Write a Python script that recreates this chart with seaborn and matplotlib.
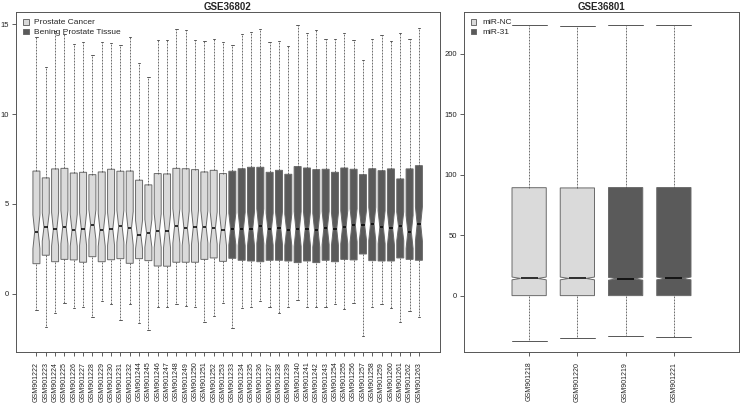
import numpy as np
import pandas as pd
import matplotlib
matplotlib.use('Agg')
import matplotlib.pyplot as plt
import seaborn as sns

sns.set_style('white')
plt.rcParams['font.family'] = ['Liberation Sans', 'DejaVu Sans']

# GSE36802 : five number summaries per array
left_samples = ['GSM901222', 'GSM901223', 'GSM901224', 'GSM901225', 'GSM901226', 'GSM901227',
                'GSM901228', 'GSM901229', 'GSM901230', 'GSM901231', 'GSM901232', 'GSM901244',
                'GSM901245', 'GSM901246', 'GSM901247', 'GSM901248', 'GSM901249', 'GSM901250',
                'GSM901251', 'GSM901252', 'GSM901253',
                'GSM901233', 'GSM901234', 'GSM901235', 'GSM901236', 'GSM901237', 'GSM901238',
                'GSM901239', 'GSM901240', 'GSM901241', 'GSM901242', 'GSM901243', 'GSM901254',
                'GSM901255', 'GSM901256', 'GSM901257', 'GSM901258', 'GSM901259', 'GSM901260',
                'GSM901261', 'GSM901262', 'GSM901263']
left_groups = ['Prostate Cancer'] * 21 + ['Bening Prostate Tissue'] * 21
left_lo = [-0.91, -1.87, -1.06, -0.52, -0.81, -0.74, -1.30, -0.41, -0.57, -1.47, -0.56, -1.61,
           -2.00, -0.72, -0.72, -0.59, -0.67, -0.72, -1.58, -1.24, -0.52,
           -1.91, -0.81, -0.76, -0.41, -0.76, -1.09, -0.76, -0.35, -0.76, -0.76, -0.76, -0.56,
           -0.87, -0.50, -2.35, -0.76, -0.59, -0.81, -1.60, -0.98, -1.28]
left_q1 = [1.67, 2.14, 1.78, 1.91, 1.88, 1.75, 2.06, 1.78, 1.89, 1.95, 1.69, 1.95, 1.84, 1.54,
           1.53, 1.75, 1.75, 1.75, 1.91, 1.99, 1.80,
           1.97, 1.86, 1.82, 1.78, 1.86, 1.86, 1.82, 1.73, 1.82, 1.73, 1.86, 1.78, 1.91, 1.88,
           2.21, 1.84, 1.82, 1.82, 1.99, 1.91, 1.86]
left_med = [3.45, 3.71, 3.59, 3.71, 3.53, 3.60, 3.84, 3.55, 3.60, 3.75, 3.64, 3.29, 3.36, 3.51,
            3.49, 3.77, 3.64, 3.71, 3.73, 3.66, 3.57,
            3.60, 3.60, 3.62, 3.77, 3.59, 3.66, 3.55, 3.60, 3.62, 3.53, 3.66, 3.60, 3.70, 3.81,
            3.81, 3.88, 3.70, 3.64, 3.75, 3.44, 3.88]
left_q3 = [6.83, 6.45, 6.95, 6.98, 6.72, 6.76, 6.63, 6.78, 6.93, 6.82, 6.83, 6.32, 6.06, 6.69,
           6.67, 6.98, 6.96, 6.91, 6.78, 6.87, 6.69,
           6.82, 6.96, 7.04, 7.04, 6.76, 6.87, 6.65, 7.08, 7.00, 6.91, 6.93, 6.76, 7.00, 6.93,
           6.63, 6.96, 6.85, 6.95, 6.39, 6.95, 7.13]
left_hi = [14.32, 12.65, 14.63, 14.49, 13.93, 14.00, 13.30, 14.00, 13.95, 13.84, 14.32, 12.87,
           12.05, 14.15, 14.15, 14.73, 14.67, 14.13, 14.09, 14.20, 14.00,
           13.84, 14.49, 14.60, 14.76, 14.00, 14.10, 13.82, 14.97, 14.54, 14.67, 14.17, 14.17,
           14.54, 14.13, 13.00, 14.20, 14.40, 14.10, 14.50, 14.20, 14.80]

# GSE36801
right_samples = ['GSM901218', 'GSM901220', 'GSM901219', 'GSM901221']
right_groups = ['miR-NC', 'miR-NC', 'miR-31', 'miR-31']
right_lo = [-37.0, -34.4, -33.0, -34.2]
right_q1 = [0.3, 0.3, 0.3, 0.3]
right_med = [14.5, 14.5, 14.2, 14.5]
right_q3 = [89.5, 89.3, 89.6, 89.6]
right_hi = [224.0, 223.5, 224.0, 224.0]

light = '#dadada'
dark = '#5a5a5a'


def expand(samples, groups, lo, q1, med, q3, hi, k):
    # sample whose quantiles reproduce the summary; k sets the notch size
    rows = []
    for s, g, a, b, c, d, e in zip(samples, groups, lo, q1, med, q3, hi):
        vals = [a] + [b] * k + [c] * k + [d] * k + [e]
        rows += [(s, g, v) for v in vals]
    return pd.DataFrame(rows, columns=['sample', 'group', 'value'])


left_df = expand(left_samples, left_groups, left_lo, left_q1, left_med, left_q3, left_hi, 24)
right_df = expand(right_samples, right_groups, right_lo, right_q1, right_med, right_q3, right_hi, 5000)

fig = plt.figure(figsize=(7.41, 4.03), dpi=100)
ax1 = fig.add_axes([16 / 741, 51 / 403, 424 / 741, 340 / 403])
ax2 = fig.add_axes([464 / 741, 51 / 403, 275 / 741, 340 / 403])

common = dict(x='sample', y='value', hue='group', dodge=False, whis=(0, 100),
              saturation=1, linecolor='#6a6a6a', linewidth=0.7, showfliers=False,
              shownotches=True,
              medianprops=dict(color='black', linewidth=1.1),
              whiskerprops=dict(color='#555555', linewidth=0.6, linestyle=(0, (2.2, 1.4))),
              capprops=dict(color='#555555', linewidth=0.7))

sns.boxplot(data=left_df, order=left_samples,
            hue_order=['Prostate Cancer', 'Bening Prostate Tissue'],
            palette=[light, dark], width=0.75, capwidths=0.25, ax=ax1, **common)
sns.boxplot(data=right_df, order=right_samples, hue_order=['miR-NC', 'miR-31'],
            palette=[light, dark], width=0.71, capwidths=0.73, ax=ax2, **common)

for ax, title in [(ax1, 'GSE36802'), (ax2, 'GSE36801')]:
    ax.set_xlabel('')
    ax.set_ylabel('')
    ax.set_title(title, fontsize=7, fontweight='bold', pad=1.8)
    ax.tick_params(axis='both', direction='out', length=3, width=0.6, color='#444444',
                   labelsize=5.5, labelcolor='#222222', bottom=True, left=True, pad=2)
    ax.tick_params(axis='x', labelrotation=90, labelsize=5, pad=4)
    for sp in ax.spines.values():
        sp.set_color('#555555')
        sp.set_linewidth(0.7)
    sns.move_legend(ax, 'upper left', title=None, frameon=False, fontsize=6,
                    handlelength=0.7, handleheight=0.7, handletextpad=0.7,
                    borderaxespad=0.4, labelspacing=0.25)

ax1.set_xlim(-2.19, 43.26)
ax1.set_ylim(-3.25, 15.69)
ax1.set_yticks([0, 5, 10, 15])
ax2.set_xlim(-1.35, 4.35)
ax2.set_ylim(-46.3, 234.7)
ax2.set_yticks([0, 50, 100, 150, 200])

fig.savefig('out.png', dpi=100)
